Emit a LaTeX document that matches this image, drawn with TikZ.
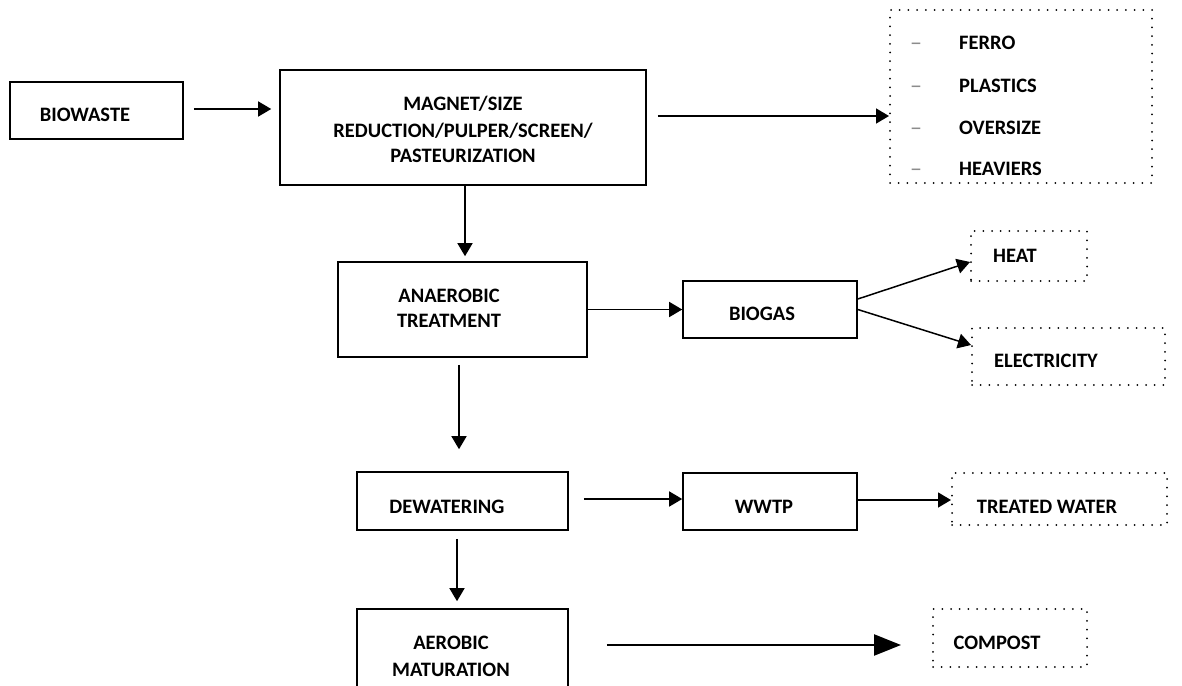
\documentclass[tikz,border=0pt]{standalone}
\usepackage{fontspec}
\setmainfont{Carlito}
\usetikzlibrary{arrows.meta}
\begin{document}
\begin{tikzpicture}[x=1pt,y=-1pt,
  box/.style={draw, line width=1.6pt, rectangle, inner sep=0pt},
  dotbox/.style={draw, line width=2pt, dash pattern=on 0pt off 8.7pt, line cap=round, rectangle, inner sep=0pt},
  lbl/.style={font=\bfseries\fontsize{20.5}{26}\selectfont, inner sep=0pt, anchor=base},
  dashitem/.style={font=\fontsize{24}{26}\selectfont, text=black!45, inner sep=0pt, anchor=base},
  arr/.style={line width=1.5pt, -{Triangle[length=13pt,width=15pt]}},
  bigarr/.style={line width=2.4pt, -{Triangle[length=27pt,width=21pt]}},
]
\clip (0,0) rectangle (1182,685);
\fill[white] (0,0) rectangle (1182,685);

% solid boxes
\node[box, minimum width=173pt, minimum height=57pt] (bio) at (96.5,110.5) {};
\node[box, minimum width=366pt, minimum height=115pt] (mag) at (463,127.5) {};
\node[box, minimum width=249pt, minimum height=95pt] (ana) at (462.5,309.5) {};
\node[box, minimum width=174pt, minimum height=57pt] (gas) at (770,309.5) {};
\node[box, minimum width=211pt, minimum height=58pt] (dew) at (462.5,501) {};
\node[box, minimum width=174pt, minimum height=57pt] (wwtp) at (770,501.5) {};
\node[box, minimum width=211pt, minimum height=91pt] (aer) at (462.5,654.5) {};

% dotted boxes
\node[dotbox, minimum width=262pt, minimum height=173pt] (list) at (1021,96.5) {};
\node[dotbox, minimum width=116pt, minimum height=50pt] (heat) at (1029,256) {};
\node[dotbox, minimum width=193pt, minimum height=57pt] (elec) at (1068.5,356.5) {};
\node[dotbox, minimum width=215pt, minimum height=52pt] (tw) at (1059.5,499) {};
\node[dotbox, minimum width=154pt, minimum height=58pt] (comp) at (1010,638) {};

% texts
\node[lbl] (bioT) at (85,121) {BIOWASTE};
\node[lbl] (magT1) at (463,110) {MAGNET/SIZE};
\node[lbl] (magT2) at (463,137) {REDUCTION/PULPER/SCREEN/};
\node[lbl] (magT3) at (463,162) {PASTEURIZATION};
\node[lbl] (anaT1) at (449,302) {ANAEROBIC};
\node[lbl] (anaT2) at (449,327) {TREATMENT};
\node[lbl] (gasT) at (762,320) {BIOGAS};
\node[lbl] (dewT) at (447,513) {DEWATERING};
\node[lbl] (wwtpT) at (764,513) {WWTP};
\node[lbl] (aerT1) at (451,649) {AEROBIC};
\node[lbl] (aerT2) at (451,676) {MATURATION};
\node[lbl] (heatT) at (1015,262) {HEAT};
\node[lbl] (elecT) at (1046,367) {ELECTRICITY};
\node[lbl] (twT) at (1047,513) {TREATED WATER};
\node[lbl] (compT) at (997,649) {COMPOST};

\node[dashitem] (d1) at (916,51) {–};
\node[dashitem] (d2) at (916,93) {–};
\node[dashitem] (d3) at (916,135) {–};
\node[dashitem] (d4) at (916,176) {–};
\node[lbl, anchor=base west] (l1) at (959,50) {FERRO};
\node[lbl, anchor=base west] (l2) at (959,92) {PLASTICS};
\node[lbl, anchor=base west] (l3) at (959,134) {OVERSIZE};
\node[lbl, anchor=base west] (l4) at (959,175) {HEAVIERS};

% connectors
\draw[arr, shorten <=10pt, shorten >=8pt] ([yshift=1.5pt]bio.east) -- ([yshift=1.5pt]bio.east -| mag.west);
\draw[arr, shorten <=11pt] ([yshift=11.5pt]mag.east) -- ([yshift=11.5pt]mag.east -| list.west);
\draw[arr, shorten >=5pt] ([xshift=2pt]mag.south) -- ([xshift=2pt]mag.south |- ana.north);
\draw[arr] (ana.east) -- (gas.west);
\draw[arr] ([yshift=10.5pt]gas.east) -- ([yshift=-6pt]heat.west);
\draw[arr] (gas.east) -- ([yshift=11.5pt]elec.west);
\draw[arr, shorten <=7pt, shorten >=22pt] ([xshift=-3.5pt]ana.south) -- ([xshift=-3.5pt]ana.south |- dew.north);
\draw[arr, shorten <=15pt] ([yshift=2pt]dew.east) -- ([yshift=2pt]dew.east -| wwtp.west);
\draw[arr] ([yshift=1.5pt]wwtp.east) -- ([yshift=1.5pt]wwtp.east -| tw.west);
\draw[arr, shorten <=8pt, shorten >=7pt] ([xshift=-5.5pt]dew.south) -- ([xshift=-5.5pt]dew.south |- aer.north);
\draw[bigarr, shorten <=38pt, shorten >=31pt] ([yshift=9.5pt]aer.east) -- ([yshift=9.5pt]aer.east -| comp.west);
\end{tikzpicture}
\end{document}
